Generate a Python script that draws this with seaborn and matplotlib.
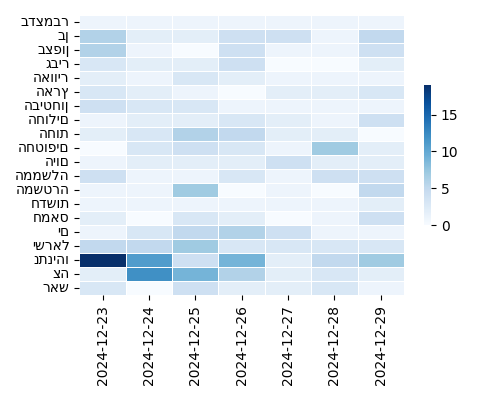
import matplotlib
matplotlib.use("Agg")
import matplotlib.pyplot as plt
import seaborn as sns
import pandas as pd
import numpy as np

dates = ["2024-12-23", "2024-12-24", "2024-12-25", "2024-12-26",
         "2024-12-27", "2024-12-28", "2024-12-29"]
words = ["בדצמבר", "בן", "בצפון", "גביר", "האוויר", "הארץ", "הביטחון",
         "החולים", "החות", "החטופים", "היום", "הממשלה", "המשטרה", "חדשות",
         "חמאס", "ים", "ישראל", "נתניהו", "צה", "ראש"]
counts = [
    [1, 1, 1, 1, 1, 1, 1],
    [6, 2, 2, 4, 4, 1, 5],
    [6, 1, 0, 4, 1, 1, 4],
    [3, 2, 2, 4, 0, 0, 2],
    [2, 1, 3, 2, 1, 1, 1],
    [3, 2, 1, 0, 2, 2, 3],
    [4, 3, 3, 1, 1, 1, 1],
    [1, 2, 2, 3, 2, 1, 4],
    [2, 3, 6, 5, 2, 2, 0],
    [0, 3, 4, 3, 1, 7, 2],
    [1, 2, 2, 2, 4, 2, 2],
    [4, 1, 1, 3, 1, 4, 4],
    [1, 1, 7, 0, 1, 0, 5],
    [1, 1, 1, 1, 1, 1, 2],
    [2, 0, 3, 2, 0, 1, 4],
    [1, 3, 5, 6, 4, 1, 1],
    [5, 5, 7, 3, 3, 3, 3],
    [19, 11, 4, 9, 2, 5, 7],
    [2, 12, 9, 6, 2, 3, 2],
    [3, 0, 4, 2, 2, 3, 1],
]

df = pd.DataFrame(counts, index=words, columns=dates)

fig, ax = plt.subplots(figsize=(5, 4), dpi=100)
sns.heatmap(df, cmap="Blues", linewidths=0.5, linecolor="white",
            cbar_kws={"shrink": 0.5}, ax=ax)
ax.set_xlabel("")
ax.set_ylabel("")
plt.setp(ax.get_xticklabels(), rotation=90)
plt.setp(ax.get_yticklabels(), rotation=0)
fig.tight_layout()
fig.savefig("out.png", dpi=100)
